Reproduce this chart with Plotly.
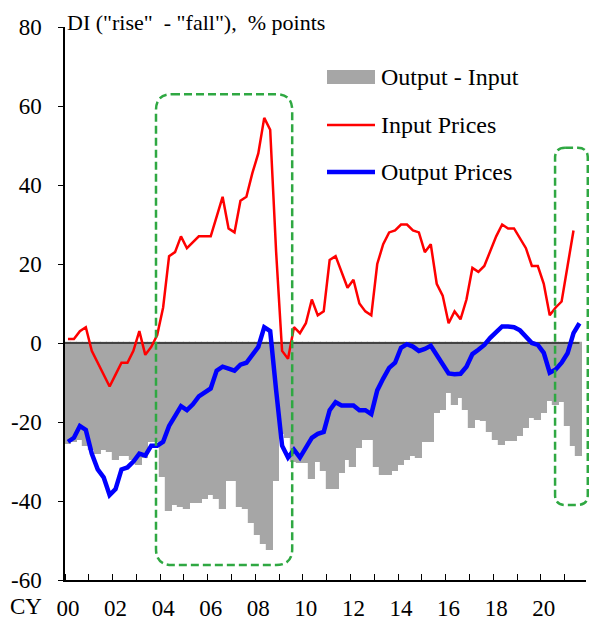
import plotly.graph_objects as go

# ---------------- data (quarterly, CY2000Q1 onward) ----------------
years = list(range(2000, 2022))
quarters = [f"{y}Q{q}" for y in years for q in range(1, 5)][:87]

output_minus_input = [
    -25.5, -25, -24.5, -26, -27, -28, -27, -27.5, -29.5, -28.5, -28.5, -29.5,
    -31, -29, -25, -25, -34, -42.5, -41, -41.5, -42, -40.5, -40.5, -39.5,
    -38.5, -39.5, -42, -35, -35, -41.5, -42, -45.5, -48.5, -51, -52.5, -35,
    -23, -24, -30, -30.5, -30.5, -34.5, -30, -32.5, -37, -37, -33, -29.5,
    -31.5, -26.5, -24.5, -24.5, -31.5, -33.5, -33.5, -32.5, -31, -29.5, -28.5, -29,
    -25, -25, -17.7, -17, -12.7, -15.7, -13.9, -16.9, -21.5, -19.6, -19.8, -22.5,
    -24.6, -25.7, -24.8, -24.8, -23.5, -21.5, -19, -19.5, -17.7, -14.8, -15.6, -15,
    -21, -26, -28.5,
]

input_prices = [
    1, 1, 3, 4, -2, -5, -8, -11, -8, -5, -5, -2,
    3, -3, -1, 2, 9, 22, 23, 27, 24, 25.5, 27, 27,
    27, 32, 37, 29, 28, 36, 37, 43, 48, 57, 54, 23,
    -2, -4, 4, 2.5, 5, 11, 7, 8, 21, 22, 18, 14,
    16, 10, 8, 7, 20, 25, 28, 28.5, 30, 30, 28.5, 28,
    23, 25, 15, 12, 5, 8, 6, 11, 19, 18, 19.5, 23.5,
    27, 30, 29, 29, 26.5, 24, 19.5, 19.5, 15, 7, 9, 10.5,
    19.5, 28.5,
]

output_prices = [
    -25, -24, -21, -22, -28, -32, -34, -38.5, -37, -32, -31.5, -30,
    -28, -28.5, -26, -26, -25, -21, -18.5, -16, -17, -15.5, -13.5, -12.5,
    -11.5, -7, -6, -6.5, -7, -5.5, -5, -3, -1, 4, 3, -12,
    -26, -29, -27, -29, -26.5, -24, -23, -22.5, -17, -15, -15.8, -15.8,
    -15.8, -17, -17, -18, -12, -9, -6.3, -5, -1.2, -0.3, -0.9, -2,
    -1.5, -0.7, -3, -5, -7.7, -7.9, -7.8, -6, -2.8, -1.7, -0.5, 1.3,
    2.7, 4.2, 4.2, 4, 3.2, 1.5, 0, -0.5, -2.5, -7.5, -6.7, -5,
    -2.6, 2.5, 5,
]

year_labels = ["00", "02", "04", "06", "08", "10", "12", "14", "16", "18", "20"]
y_ticks = [-60, -40, -20, 0, 20, 40, 60, 80]

legend_names = ["Output - Input", "Input Prices", "Output Prices"]
title_text = 'DI ("rise"\u00a0 - "fall"),\u00a0 % points'

# ---------------- styling ----------------
FONT = "Liberation Serif"
FS_TITLE = 22
FS_TICK = 23
FS_LEG = 24
GRAY = "#a6a6a6"
RED = "#ff0000"
BLUE = "#0000ff"
GREEN = "#2fa842"

# page body has an 8px margin, so the figure is laid out 8px smaller
OFF = 8
W, H = 597 - OFF, 621 - OFF
ML, MR, MT, MB = 65 - OFF, 11, 27 - OFF, 41
PW, PH = W - ML - MR, H - MT - MB

pos = list(range(len(quarters)))
XR = [-0.5, 87.1]
YR = [-60, 80]


def px2paper_x(px):
    return (px - OFF - ML) / PW


def px2paper_y(py):
    return (H - MB - (py - OFF)) / PH


def dx(x):
    return (x - XR[0]) / (XR[1] - XR[0])


def dy(y):
    return (y - YR[0]) / (YR[1] - YR[0])


def rounded_rect(x0, x1, y0, y1, r):
    a0, a1 = dx(x0), dx(x1)
    b0, b1 = dy(y0), dy(y1)
    rx, ry = r / PW, r / PH
    return (
        f"M{a0 + rx},{b1} L{a1 - rx},{b1} Q{a1},{b1} {a1},{b1 - ry} "
        f"L{a1},{b0 + ry} Q{a1},{b0} {a1 - rx},{b0} "
        f"L{a0 + rx},{b0} Q{a0},{b0} {a0},{b0 + ry} "
        f"L{a0},{b1 - ry} Q{a0},{b1} {a0 + rx},{b1} Z"
    )


fig = go.Figure()

fig.add_trace(go.Bar(
    x=pos, y=output_minus_input, width=1,
    marker=dict(color=GRAY, line=dict(color=GRAY, width=1.2)),
    showlegend=False, hoverinfo="skip",
))

fig.add_trace(go.Scatter(
    x=[pos[0] - 0.5, pos[-1]], y=[0, 0], mode="lines",
    line=dict(color="#222222", width=1.6), showlegend=False, hoverinfo="skip",
))

fig.add_trace(go.Scatter(
    x=pos[:len(input_prices)], y=input_prices, mode="lines",
    line=dict(color=RED, width=2.5), showlegend=False,
))

fig.add_trace(go.Scatter(
    x=pos, y=output_prices, mode="lines",
    line=dict(color=BLUE, width=4.5), showlegend=False,
))

shapes = []
for (x0, x1, y0, y1, r) in [(14.8, 37.7, -56.2, 63.0, 16), (81.9, 87.4, -41.0, 49.4, 10)]:
    shapes.append(dict(type="path", xref="paper", yref="paper",
                       path=rounded_rect(x0, x1, y0, y1, r),
                       line=dict(color=GREEN, width=2.5, dash="8px,4px"),
                       fillcolor="rgba(0,0,0,0)", layer="above"))

lx0, lx1 = px2paper_x(327), px2paper_x(375)
shapes.append(dict(type="rect", xref="paper", yref="paper",
                   x0=lx0, x1=lx1, y0=px2paper_y(84), y1=px2paper_y(70),
                   fillcolor=GRAY, line=dict(width=0)))
shapes.append(dict(type="line", xref="paper", yref="paper",
                   x0=lx0, x1=lx1, y0=px2paper_y(125), y1=px2paper_y(125),
                   line=dict(color=RED, width=2.5)))
shapes.append(dict(type="line", xref="paper", yref="paper",
                   x0=lx0, x1=lx1, y0=px2paper_y(172), y1=px2paper_y(172),
                   line=dict(color=BLUE, width=4.5)))

annotations = []
for name, py in zip(legend_names, [77, 125, 172]):
    annotations.append(dict(text=name, xref="paper", yref="paper",
                            x=px2paper_x(379), y=px2paper_y(py),
                            xanchor="left", yanchor="middle", showarrow=False,
                            font=dict(family=FONT, size=FS_LEG, color="black")))

annotations.append(dict(text=title_text, xref="paper", yref="paper",
                        x=px2paper_x(65), y=px2paper_y(8),
                        xanchor="left", yanchor="top", showarrow=False,
                        font=dict(family=FONT, size=FS_TITLE, color="black")))
annotations.append(dict(text="CY", xref="paper", yref="paper",
                        x=px2paper_x(44), y=px2paper_y(606),
                        xanchor="right", yanchor="middle", showarrow=False,
                        font=dict(family=FONT, size=FS_TICK, color="black")))

fig.update_layout(
    width=W, height=H,
    margin=dict(l=ML, r=MR, t=MT, b=MB, pad=0, autoexpand=False),
    plot_bgcolor="white", paper_bgcolor="white",
    bargap=0,
    font=dict(family=FONT, size=FS_TICK, color="black"),
    shapes=shapes, annotations=annotations,
    showlegend=False,
)

fig.update_xaxes(
    range=XR, tickmode="array", automargin=False,
    tickvals=[pos[quarters.index(f"20{lab}Q1")] for lab in year_labels],
    ticktext=year_labels, ticks="", ticklabelstandoff=7,
    showline=True, linecolor="black", linewidth=1.5,
    showgrid=False, zeroline=False,
    minor=dict(tickmode="linear", tick0=-0.5, dtick=4, ticks="inside",
               ticklen=6, tickwidth=1.3, tickcolor="black", showgrid=False),
    tickfont=dict(family=FONT, size=FS_TICK, color="black"),
)

fig.update_yaxes(
    range=YR, tickmode="array", tickvals=y_ticks, automargin=False,
    ticktext=[str(v) for v in y_ticks],
    ticks="outside", ticklen=5, tickwidth=1.3, tickcolor="black",
    ticklabelstandoff=12,
    showline=True, linecolor="black", linewidth=1.5,
    showgrid=False, zeroline=False,
    tickfont=dict(family=FONT, size=FS_TICK, color="black"),
)

fig.write_html("out.html")
